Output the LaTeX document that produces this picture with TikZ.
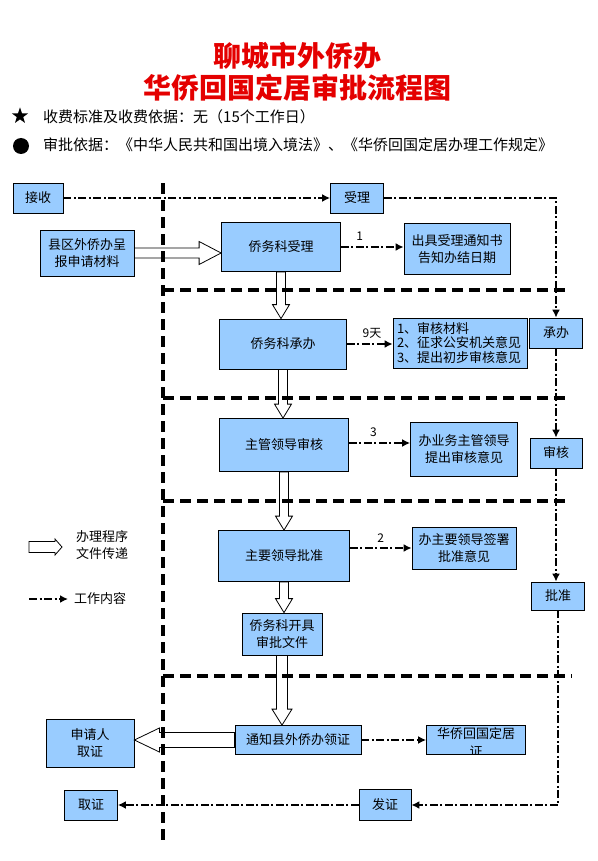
\documentclass[tikz,border=0pt]{standalone}
\usepackage{fontspec}
\setmainfont{Noto Sans CJK SC}
\usepackage{tikz}
\usetikzlibrary{arrows.meta, calc, positioning, shapes.geometric}

\definecolor{boxblue}{RGB}{153,204,255}
\definecolor{titlered}{RGB}{228,0,0}

\newcommand{\boxfont}{\fontsize{13}{16.5}\selectfont}
\tikzset{
  box/.style={rectangle, draw=black, line width=0.8pt, fill=boxblue, font=\boxfont, align=center, inner sep=1pt},
  sz/.style args={#1/#2}{minimum width=#1pt, minimum height=#2pt},
  work/.style={draw=black, line width=1.9pt, dash pattern=on 8pt off 2.5pt on 2pt off 2.5pt, -{Latex[length=8pt, width=8pt]}},
  zone/.style={draw=black, line width=3.5pt, dash pattern=on 11pt off 6pt},
  hollow/.style={draw=black, line width=0.8pt, line join=miter},
  tag/.style={font=\fontsize{12}{14}\selectfont, inner sep=0pt},
  headline/.style={font=\fontsize{28}{32}\selectfont\bfseries, text=titlered, inner sep=0pt},
  note/.style={anchor=west, font=\fontsize{15}{18}\selectfont, inner sep=0pt},
}
% hollow (outline) arrow: start, tip, shaft half width, head half width, head length
\newcommand{\hollowarrow}[5]{%
  \path #1 coordinate (ha) #2 coordinate (hb);
  \coordinate (hc) at ($(hb)!#5!(ha)$);
  \draw[hollow] ($(ha)!#3!90:(hb)$) -- ($(hc)!#3!-90:(ha)$) -- ($(hc)!#4!-90:(ha)$)
    -- (hb) -- ($(hc)!#4!90:(ha)$) -- ($(hc)!#3!90:(ha)$) -- ($(ha)!#3!-90:(hb)$) -- cycle;
}

\begin{document}
\begin{tikzpicture}[x=1pt, y=-1pt]
\useasboundingbox (0,0) rectangle (597,861);

%% Title and notes
\node[headline] (title1) at (297,56) {聊城市外侨办};
\node[headline] (title2) at (297,88) {华侨回国定居审批流程图};
\node[star, star points=5, star point ratio=2.5, fill=black, inner sep=0pt, minimum size=17pt] (starmark) at (20,116) {};
\node[note] (fee) at (43,117) {收费标准及收费依据：无（15个工作日）};
\node[circle, fill=black, inner sep=0pt, minimum size=16pt] (dotmark) at (21,146) {};
\node[note] (basis) at (43,145) {审批依据：《中华人民共和国出境入境法》、《华侨回国定居办理工作规定》};

%% Zone dividers
\coordinate (vtop) at (163,183);
\coordinate (vbot) at (163,846);
\draw[zone] (vtop) -- (vbot);
\foreach \y/\xe in {290/569, 398/565, 501/571, 676/572} {
  \draw[zone] (163,\y) -- (\xe,\y);
}

%% Left column
\node[box, sz={50/30}]  (jieshou)     at (38,198)  {接收};
\node[box, sz={94/46}]  (xianqu)      at (87,253)  {县区外侨办呈\\报申请材料};
\node[box, sz={88/48}]  (shenqingren) at (90,743)  {申请人\\取证};
\node[box, sz={53/30}]  (quzheng)     at (91,805)  {取证};

%% Main column
\node[box, sz={119/49}] (qwkshouli)   at (281,247) {侨务科受理};
\node[box, sz={127/50}] (qwkchengban) at (283,344) {侨务科承办};
\node[box, sz={129/53}] (zhuguan)     at (284,445) {主管领导审核};
\node[box, sz={131/51}] (pizhun)      at (284,556) {主要领导批准};
\node[box, sz={80/42}]  (kaiju)       at (282,634) {侨务科开具\\审批文件};
\node[box, sz={126/29}] (lingzheng)   at (298,740) {通知县外侨办领证};
\node[box, sz={52/31}]  (fazheng)     at (385,805) {发证};

%% Work content
\node[box, sz={106/51}] (tongzhishu)  at (457,249) {出具受理通知书\\告知办结日期};
\node[box, sz={134/50}, font=\fontsize{13}{14.5}\selectfont, align=left, text width=126pt] (shenhelist) at (460,343)
  {1、审核材料\\2、征求公安机关意见\\3、提出初步审核意见};
\node[box, sz={107/54}] (yijian)      at (464,449) {办业务主管领导\\提出审核意见};
\node[box, sz={104/42}] (qianshu)     at (464,548) {办主要领导签署\\批准意见};
\node[box, sz={99/29}]  (zhengshu)    at (476,740) {};
\begin{scope}
  \clip (zhengshu.south west) rectangle (zhengshu.north east);
  \node[font=\fontsize{13}{18}\selectfont, align=center, inner sep=0pt] (zhengshutxt) at (476,742) {华侨回国定居\\证};
\end{scope}

%% Right column
\node[box, sz={53/30}]  (shouli)      at (357,198) {受理};
\node[box, sz={53/30}]  (chengban)    at (556,333) {承办};
\node[box, sz={52/30}]  (shenhe)      at (556,453) {审核};
\node[box, sz={53/28}]  (pizhunr)     at (558,596) {批准};

%% Legend
\coordinate (lga) at (29,547);
\coordinate (lgb) at (62,547);
\hollowarrow{(lga)}{(lgb)}{5.5pt}{8pt}{7pt}
\node[anchor=west, font=\boxfont, align=left, inner sep=0pt] (lgtext1) at (76,545) {办理程序\\文件传递};
\coordinate (lgc) at (29,599);
\coordinate (lgd) at (68,599);
\draw[work] (lgc) -- (lgd);
\node[anchor=west, font=\boxfont, inner sep=0pt] (lgtext2) at (74,599) {工作内容};

%% Document flow (hollow arrows)
\hollowarrow{(xianqu.east)}{(xianqu.east -| qwkshouli.west)}{5pt}{11.5pt}{22pt}
\foreach \a/\b in {qwkshouli/qwkchengban, qwkchengban/zhuguan, zhuguan/pizhun, pizhun/kaiju} {
  \hollowarrow{(\a.south)}{(\a.south |- \b.north)}{4.5pt}{8.5pt}{14pt}
}
\hollowarrow{(kaiju.south)}{(kaiju.south |- lingzheng.north)}{5.5pt}{10pt}{16pt}
\hollowarrow{(lingzheng.west)}{(lingzheng.west -| shenqingren.east)}{7.5pt}{12pt}{25pt}

%% Work content (dash-dot arrows)
\draw[work] (jieshou.east) -- (jieshou.east -| shouli.west);
\draw[work] (shouli.east) -| (chengban.north);
\draw[work] (chengban.south) -- (shenhe.north);
\draw[work] (shenhe.south) -- (shenhe.south |- pizhunr.north);
\draw[work] (pizhunr.south) |- (fazheng.east);
\draw[work] (fazheng.west) -- (quzheng.east);

\draw[work] (qwkshouli.east) -- node[tag, pos=0.3, above=6pt] {1} (qwkshouli.east -| tongzhishu.west);
\draw[work] (qwkchengban.east) -- node[tag, pos=0.55, above=5pt] {9天} (qwkchengban.east -| shenhelist.west);
\coordinate (zgout) at ($(zhuguan.east)+(0,-2)$);
\draw[work] (zgout) -- node[tag, pos=0.4, above=5pt] {3} (zgout -| yijian.west);
\draw[work] (pizhun.east |- qianshu.west) -- node[tag, pos=0.5, above=5pt] {2} (qianshu.west);
\draw[work] (lingzheng.east) -- (lingzheng.east -| zhengshu.west);
\end{tikzpicture}
\end{document}
